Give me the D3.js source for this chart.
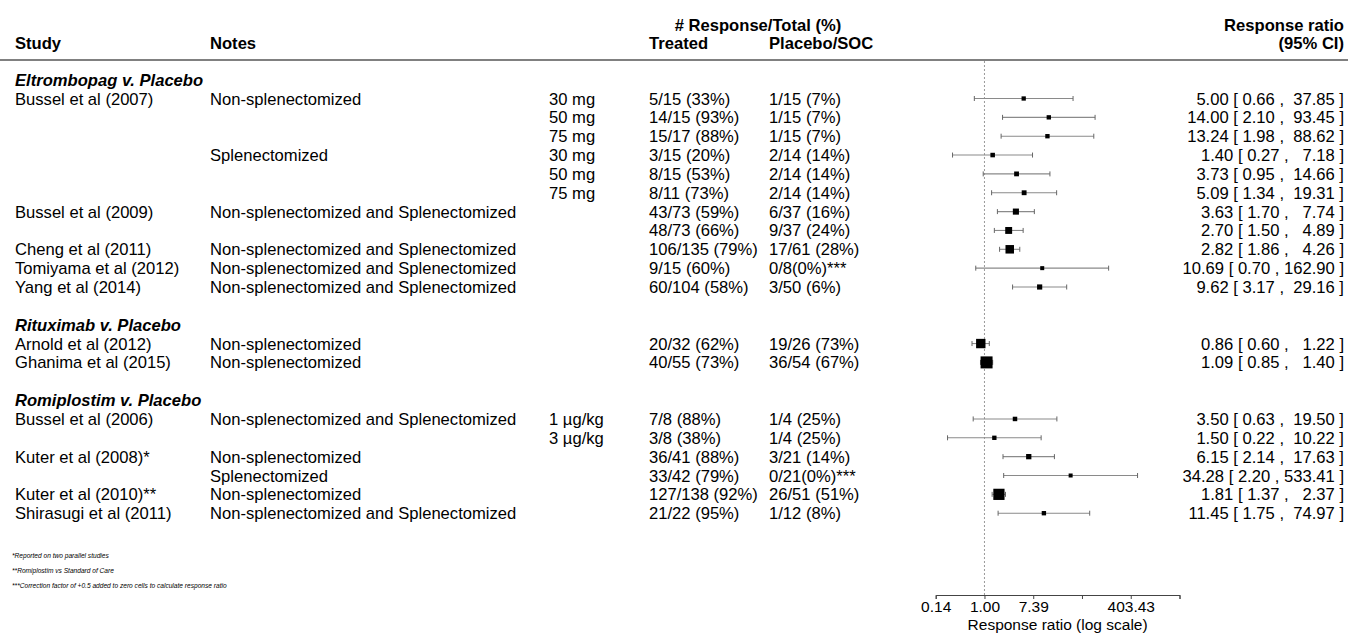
<!DOCTYPE html>
<html>
<head>
<meta charset="utf-8">
<script src="https://cdnjs.cloudflare.com/ajax/libs/d3/7.8.5/d3.min.js"></script>
<style>
  body { margin: 0; background: #fff; }
  svg text { font-family: "Liberation Sans", Arial, Helvetica, sans-serif; fill: #000; }
</style>
</head>
<body>
<script>

// groups and rows of the forest plot
var sections = ["Eltrombopag v. Placebo", "Rituximab v. Placebo", "Romiplostim v. Placebo"];
var sectionOf = [0,0,0,0,0,0,0,0,0,0,0, 1,1, 2,2,2,2,2,2];

var studies = ["Bussel et al (2007)", "", "", "", "", "",
  "Bussel et al (2009)", "", "Cheng et al (2011)", "Tomiyama et al (2012)", "Yang et al (2014)",
  "Arnold et al (2012)", "Ghanima et al (2015)",
  "Bussel et al (2006)", "", "Kuter et al (2008)*", "", "Kuter et al (2010)**", "Shirasugi et al (2011)"];

var notes = ["Non-splenectomized", "", "", "Splenectomized", "", "",
  "Non-splenectomized and Splenectomized", "", "Non-splenectomized and Splenectomized",
  "Non-splenectomized and Splenectomized", "Non-splenectomized and Splenectomized",
  "Non-splenectomized", "Non-splenectomized",
  "Non-splenectomized and Splenectomized", "", "Non-splenectomized", "Splenectomized",
  "Non-splenectomized", "Non-splenectomized and Splenectomized"];

var doses = ["30 mg", "50 mg", "75 mg", "30 mg", "50 mg", "75 mg", "", "", "", "", "",
  "", "", "1 µg/kg", "3 µg/kg", "", "", "", ""];

var treated = ["5/15 (33%)", "14/15 (93%)", "15/17 (88%)", "3/15 (20%)", "8/15 (53%)", "8/11 (73%)",
  "43/73 (59%)", "48/73 (66%)", "106/135 (79%)", "9/15 (60%)", "60/104 (58%)",
  "20/32 (62%)", "40/55 (73%)",
  "7/8 (88%)", "3/8 (38%)", "36/41 (88%)", "33/42 (79%)", "127/138 (92%)", "21/22 (95%)"];

var placebo = ["1/15 (7%)", "1/15 (7%)", "1/15 (7%)", "2/14 (14%)", "2/14 (14%)", "2/14 (14%)",
  "6/37 (16%)", "9/37 (24%)", "17/61 (28%)", "0/8(0%)***", "3/50 (6%)",
  "19/26 (73%)", "36/54 (67%)",
  "1/4 (25%)", "1/4 (25%)", "3/21 (14%)", "0/21(0%)***", "26/51 (51%)", "1/12 (8%)"];

var est = [5.00, 14.00, 13.24, 1.40, 3.73, 5.09, 3.63, 2.70, 2.82, 10.69, 9.62,
  0.86, 1.09, 3.50, 1.50, 6.15, 34.28, 1.81, 11.45];
var lower = [0.66, 2.10, 1.98, 0.27, 0.95, 1.34, 1.70, 1.50, 1.86, 0.70, 3.17,
  0.60, 0.85, 0.63, 0.22, 2.14, 2.20, 1.37, 1.75];
var upper = [37.85, 93.45, 88.62, 7.18, 14.66, 19.31, 7.74, 4.89, 4.26, 162.90, 29.16,
  1.22, 1.40, 19.50, 10.22, 17.63, 533.41, 2.37, 74.97];

// axis ticks at e^-2 ... e^8
var tickPowers = [-2, 0, 2, 4, 6, 8];
var tickLabels = ["0.14", "1.00", "7.39", "", "403.43", ""];

var footnotes = ["*Reported on two parallel studies",
  "**Romiplostim vs Standard of Care",
  "***Correction factor of +0.5 added to zero cells to calculate response ratio"];

var svgWidth = 1348, svgHeight = 634;
var fs = 16.6;

var svg = d3.select("body").append("svg")
  .attr("width", svgWidth)
  .attr("height", svgHeight);

// build the row list: section header, rows, blank line
var rows = [];
var slot = -1;
sections.forEach(function(s, k){
  if (k > 0) slot += 1;           // blank line between groups
  rows.push({type: "section", label: s, slot: slot});
  slot += 1;
  for (var i = 0; i < est.length; i++){
    if (sectionOf[i] != k) continue;
    rows.push({type: "study", i: i, slot: slot});
    slot += 1;
  }
});

var y = d3.scaleLinear().domain([0, 22]).range([98.5, 513.2]);
var x = d3.scaleLog()
  .domain([Math.exp(-2), Math.exp(8)])
  .range([935.7, 1179.5]);

// inverse-variance weights from the CI, box size grows with sqrt(weight)
var weights = est.map(function(d, i){
  var se = (Math.log(upper[i]) - Math.log(lower[i])) / (2 * 1.959964);
  return 1 / (se * se);
});
var size = d3.scaleSqrt().domain(d3.extent(weights)).range([4, 12]);

var col = {study: 15, notes: 210, dose: 549, treated: 649, placebo: 769, right: 1344};

// header
var head = svg.append("g").attr("font-weight", "bold").attr("font-size", fs);
head.append("text").attr("x", 758).attr("y", 31).attr("text-anchor", "middle").text("# Response/Total (%)");
head.append("text").attr("x", col.right).attr("y", 31).attr("text-anchor", "end").text("Response ratio");
head.append("text").attr("x", col.study).attr("y", 49).text("Study");
head.append("text").attr("x", col.notes).attr("y", 49).text("Notes");
head.append("text").attr("x", col.treated).attr("y", 49).text("Treated");
head.append("text").attr("x", col.placebo).attr("y", 49).text("Placebo/SOC");
head.append("text").attr("x", col.right).attr("y", 49).attr("text-anchor", "end").text("(95% CI)");

svg.append("line")
  .attr("x1", 0).attr("x2", svgWidth)
  .attr("y1", 60).attr("y2", 60)
  .attr("stroke", "#808080")
  .attr("stroke-width", 1.8);

// reference line at ratio 1
svg.append("line")
  .attr("x1", x(1)).attr("x2", x(1))
  .attr("y1", 61).attr("y2", 595)
  .attr("stroke", "#999")
  .attr("stroke-width", 1)
  .attr("stroke-dasharray", "2,2");

var body = svg.append("g").attr("font-size", fs);

body.selectAll(".section")
  .data(rows.filter(function(r){ return r.type == "section"; }))
  .enter()
  .append("text")
  .attr("class", "section")
  .attr("x", col.study)
  .attr("y", function(r){ return y(r.slot) + 6; })
  .attr("font-weight", "bold")
  .attr("font-style", "italic")
  .text(function(r){ return r.label; });

var studyRows = rows.filter(function(r){ return r.type == "study"; });

var cells = [
  {key: "study", arr: studies},
  {key: "notes", arr: notes},
  {key: "dose", arr: doses},
  {key: "treated", arr: treated},
  {key: "placebo", arr: placebo}
];
cells.forEach(function(c){
  body.selectAll(".c-" + c.key)
    .data(studyRows)
    .enter()
    .append("text")
    .attr("class", "c-" + c.key)
    .attr("x", col[c.key])
    .attr("y", function(r){ return y(r.slot) + 6; })
    .text(function(r){ return c.arr[r.i]; });
});

function pad(s, w){
  while (s.length < w) s = " " + s;
  return s;
}

body.selectAll(".ci-text")
  .data(studyRows)
  .enter()
  .append("text")
  .attr("class", "ci-text")
  .attr("x", col.right)
  .attr("y", function(r){ return y(r.slot) + 6; })
  .attr("text-anchor", "end")
  .style("white-space", "pre")
  .text(function(r){
    var i = r.i;
    return est[i].toFixed(2) + " [ " + lower[i].toFixed(2) + " , " + pad(upper[i].toFixed(2), 6) + " ]";
  });

// confidence intervals
var marks = svg.append("g");
marks.selectAll(".ci")
  .data(studyRows)
  .enter()
  .append("line")
  .attr("class", "ci")
  .attr("x1", function(r){ return x(lower[r.i]); })
  .attr("x2", function(r){ return x(upper[r.i]); })
  .attr("y1", function(r){ return y(r.slot); })
  .attr("y2", function(r){ return y(r.slot); })
  .attr("stroke", "#8a8a8a")
  .attr("stroke-width", 1.1);

["lo", "hi"].forEach(function(end){
  marks.selectAll(".cap-" + end)
    .data(studyRows)
    .enter()
    .append("line")
    .attr("class", "cap-" + end)
    .attr("x1", function(r){ return x(end == "lo" ? lower[r.i] : upper[r.i]); })
    .attr("x2", function(r){ return x(end == "lo" ? lower[r.i] : upper[r.i]); })
    .attr("y1", function(r){ return y(r.slot) - 2.5; })
    .attr("y2", function(r){ return y(r.slot) + 2.5; })
    .attr("stroke", "#666")
    .attr("stroke-width", 1);
});

marks.selectAll(".box")
  .data(studyRows)
  .enter()
  .append("rect")
  .attr("class", "box")
  .attr("x", function(r){ return x(est[r.i]) - size(weights[r.i]) / 2; })
  .attr("y", function(r){ return y(r.slot) - size(weights[r.i]) / 2; })
  .attr("width", function(r){ return size(weights[r.i]); })
  .attr("height", function(r){ return size(weights[r.i]); })
  .attr("fill", "#000");

// footnotes
svg.selectAll(".foot")
  .data(footnotes)
  .enter()
  .append("text")
  .attr("class", "foot")
  .attr("x", 12)
  .attr("y", function(d, i){ return 558 + i * 15; })
  .attr("font-size", 6.6)
  .attr("font-style", "italic")
  .attr("fill", "#222")
  .text(function(d){ return d; });

// log axis
var axis = d3.axisBottom(x)
  .tickValues(tickPowers.map(function(p){ return Math.exp(p); }))
  .tickFormat(function(d, i){ return tickLabels[i]; })
  .tickSize(4)
  .tickPadding(2);

var ax = svg.append("g")
  .attr("transform", "translate(0,595)")
  .call(axis);
ax.select(".domain").attr("stroke", "#444");
ax.selectAll(".tick line").attr("stroke", "#444");
ax.selectAll(".tick text")
  .attr("font-size", 15.5)
  .attr("font-family", "'Liberation Sans', Arial, sans-serif")
  .attr("dy", null)
  .attr("y", 16.5)
  .attr("fill", "#000");

svg.append("text")
  .attr("x", x(Math.exp(3)))
  .attr("y", 629.5)
  .attr("text-anchor", "middle")
  .attr("font-size", 15.5)
  .text("Response ratio (log scale)");

</script>
</body>
</html>
